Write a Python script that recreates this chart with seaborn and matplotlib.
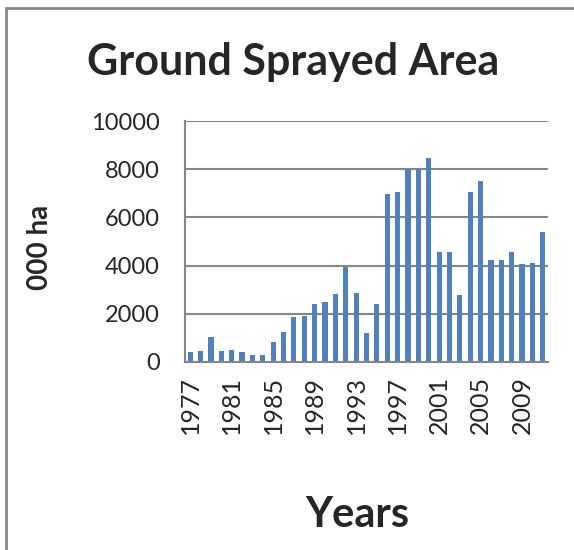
import numpy as np
import pandas as pd
import matplotlib
matplotlib.use("Agg")
import matplotlib.pyplot as plt
import seaborn as sns
from matplotlib.patches import Rectangle

years = list(range(1977, 2012))
area = [400, 470, 1030, 440, 480, 410, 290, 275, 840, 1250,
        1870, 1900, 2400, 2490, 2810, 3950, 2880, 1190, 2400, 6970,
        7060, 7990, 7990, 8470, 4550, 4550, 2770, 7060, 7490, 4230,
        4230, 4550, 4050, 4110, 5380]
label_years = [1977, 1981, 1985, 1989, 1993, 1997, 2001, 2005, 2009]

df = pd.DataFrame({"year": [str(y) for y in years], "area": area})

sns.set_style("white")
plt.rcParams['font.family'] = ['Lato', 'DejaVu Sans']

fig = plt.figure(figsize=(5.74, 5.5), dpi=100)
ax = fig.add_axes([185 / 574, 1 - 362 / 550, 363 / 574, 241 / 550])
ax.set_axisbelow(True)

grid_col = "#868686"
sns.barplot(data=df, x="year", y="area", color="#4F81BD", saturation=1,
            width=0.5, linewidth=0, ax=ax)

ax.set_ylim(0, 10000)
ax.set_xlim(-0.5, len(years) - 0.5)
ax.set_yticks(np.arange(0, 10001, 2000))
ax.set_yticklabels([str(v) for v in range(0, 10001, 2000)], fontsize=17)
ax.yaxis.grid(True, color=grid_col, linewidth=1.5)

pos = [years.index(y) for y in label_years]
ax.set_xticks(pos)
ax.set_xticklabels([str(y) for y in label_years], rotation=90, fontsize=18)
ax.tick_params(axis="x", which="major", length=0, pad=10)
ax.set_xticks(np.arange(-0.5, len(years), 1), minor=True)
ax.tick_params(axis="x", which="minor", length=5, width=1.2, color=grid_col, direction="out")
ax.tick_params(axis="y", length=6, width=1.5, color=grid_col, direction="out", pad=12)

for side in ["top", "right"]:
    ax.spines[side].set_visible(False)
for side in ["left", "bottom"]:
    ax.spines[side].set_color(grid_col)
    ax.spines[side].set_linewidth(1.5)

ax.set_xlabel("")
ax.set_ylabel("")
fig.text(40 / 574, 1 - 247 / 550, "000 ha", rotation=90, fontsize=20,
         fontweight="bold", ha="center", va="center")
fig.text(293 / 574, 1 - 62 / 550, "Ground Sprayed Area", fontsize=31,
         fontweight="bold", ha="center", va="center")
fig.text(357 / 574, 1 - 515 / 550, "Years", fontsize=30,
         fontweight="bold", ha="center", va="center")

fig.patches.append(Rectangle((6 / 574, -0.1), 1.2, 1 - 8 / 550 + 0.1,
                             transform=fig.transFigure, fill=False,
                             edgecolor=grid_col, linewidth=2))

fig.savefig("out.png", dpi=100)
